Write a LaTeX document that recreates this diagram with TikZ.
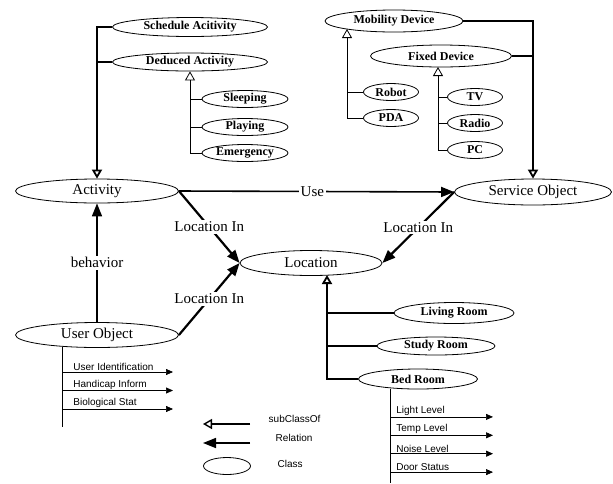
\documentclass[tikz,border=0pt]{standalone}
\usepackage{fontspec}
\setmainfont{Liberation Serif}
\setsansfont{Liberation Sans}
\usetikzlibrary{arrows.meta,shapes.geometric}

\begin{document}
\begin{tikzpicture}[x=1pt,y=-1pt,line width=0.8pt,
    cls/.style={draw,ellipse,inner sep=0pt,
        font=\fontsize{15}{17}\selectfont},
    sub/.style={draw,ellipse,inner sep=0pt,
        font=\bfseries\fontsize{12}{14}\selectfont},
    isa/.style={-{Triangle[open,length=9pt,width=10pt]}},
    rel/.style={-{Triangle[length=13pt,width=10pt]},line width=2.2pt},
    attr/.style={-{Triangle[length=7pt,width=6pt]},line width=0.7pt},
    lbl/.style={fill=white,inner sep=1.5pt,
        font=\fontsize{15}{17}\selectfont},
    alab/.style={anchor=south west,inner sep=1pt,
        font=\sffamily\fontsize{10}{12}\selectfont}]
    \useasboundingbox (0,0) rectangle (613,483);

    % Activity side.
    \node[sub,minimum width=155,minimum height=19] (sched) at (190,27)
        {Schedule Acitivity};
    \node[sub,minimum width=155,minimum height=18] (deduced) at (190,62)
        {Deduced Activity};
    \node[sub,minimum width=86,minimum height=17] (sleep) at (245,99) {Sleeping};
    \node[sub,minimum width=86,minimum height=17] (play) at (245,127) {Playing};
    \node[sub,minimum width=86,minimum height=17] (emerg) at (245,153) {Emergency};
    \node[cls,minimum width=163,minimum height=24] (act) at (97,191) {Activity};

    \draw[isa,line width=1.8pt] (sched.west) -| (act.north);
    \draw[line width=1.2pt] (deduced.west) -- (deduced.west -| act.north);
    \draw[isa] (emerg.west) -| (deduced.south);
    \draw (sleep.west) -- (sleep.west -| deduced.south);
    \draw (play.west) -- (play.west -| deduced.south);

    % Service side.
    \node[sub,minimum width=138,minimum height=22] (mob) at (394,21)
        {Mobility Device};
    \node[sub,minimum width=141,minimum height=22] (fixed) at (441,56)
        {Fixed Device};
    \node[sub,minimum width=55,minimum height=17] (robot) at (391,92) {Robot};
    \node[sub,minimum width=55,minimum height=17] (pda) at (391,118) {PDA};
    \node[sub,minimum width=55,minimum height=17] (tv) at (475,97) {TV};
    \node[sub,minimum width=55,minimum height=17] (radio) at (475,123) {Radio};
    \node[sub,minimum width=55,minimum height=17] (pc) at (475,150) {PC};
    \node[cls,minimum width=157,minimum height=26] (serv) at (533,192)
        {Service Object};
    \coordinate (mob-tip) at (347,29);
    \coordinate (fixed-tip) at (438,67);

    \draw[isa,line width=1.8pt] (mob.east) -| (serv.north);
    \draw[line width=1.8pt] (fixed.east) -- (fixed.east -| serv.north);
    \draw[isa] (pda.west) -| (mob-tip);
    \draw (robot.west) -- (robot.west -| mob-tip);
    \draw[isa] (pc.west) -| (fixed-tip);
    \draw (tv.west) -- (tv.west -| fixed-tip);
    \draw (radio.west) -- (radio.west -| fixed-tip);

    % Location.
    \node[cls,minimum width=142,minimum height=25] (loc) at (311,263) {Location};
    \node[sub,minimum width=120,minimum height=21] (living) at (454,313)
        {Living Room};
    \node[sub,minimum width=118,minimum height=18] (study) at (436,346)
        {Study Room};
    \node[sub,minimum width=119,minimum height=20] (bed) at (418,379)
        {Bed Room};
    \coordinate (loc-tip) at (327,275);

    \draw[isa,line width=1.8pt] (bed.west) -| (loc-tip);
    \draw[line width=1.8pt] (living.west) -- (living.west -| loc-tip);
    \draw[line width=1.8pt] (study.west) -- (study.west -| loc-tip);

    % User object.
    \node[cls,minimum width=163,minimum height=25] (user) at (97,335)
        {User Object};

    % Relations.
    \draw[rel,line width=1.6pt] (act.east) -- node[lbl,pos=0.485] {Use} (serv.west);
    \draw[rel] (act.east) -- node[lbl] {Location In} (loc.west);
    \draw[rel] (serv.west) -- node[lbl] {Location In} (loc.east);
    \draw[rel] (user.east) -- node[lbl] {Location In} (loc.west);
    \draw[rel,line width=1.6pt] (user.north) -- node[lbl] {behavior} (act.south);

    % Attributes.
    \coordinate (user-stem) at (62,347);
    \coordinate (user-end) at (62,427);
    \draw (user-stem) -- (user-end);
    \foreach \i/\txt in {1/User Identification,2/Handicap Inform,3/Biological Stat}{
        \coordinate (ua-\i) at (62,353.5+18.5*\i);
        \draw[attr] (ua-\i) -- ++(111,0);
        \node[alab] (ua-lab-\i) at ([xshift=10pt]ua-\i) {\txt};
    }
    \coordinate (bed-stem) at (390,389);
    \coordinate (bed-end) at (390,483);
    \draw (bed-stem) -- (bed-end);
    \foreach \i/\txt in {1/Light Level,2/Temp Level,3/Noise Level,4/Door Status}{
        \coordinate (ba-\i) at (390,398.5+18.4*\i);
        \draw[attr] (ba-\i) -- ++(103,0);
        \node[alab] (ba-lab-\i) at ([xshift=5pt]ba-\i) {\txt};
    }

    % Legend.
    \coordinate (lg-isa) at (250,424);
    \coordinate (lg-rel) at (250,443);
    \draw[isa,line width=1.4pt] (lg-isa) -- ++(-47,0);
    \draw[rel,line width=1.6pt] (lg-rel) -- ++(-47,0);
    \node[draw,ellipse,minimum width=47,minimum height=17] (lg-cls) at (227,466) {};
    \node[anchor=west,font=\sffamily\fontsize{10}{12}\selectfont]
        (lg-isa-lab) at (265,419) {subClassOf};
    \node[anchor=west,font=\sffamily\fontsize{10}{12}\selectfont]
        (lg-rel-lab) at (272,438) {Relation};
    \node[anchor=west,font=\sffamily\fontsize{10}{12}\selectfont]
        (lg-cls-lab) at (274,464) {Class};
\end{tikzpicture}
\end{document}
